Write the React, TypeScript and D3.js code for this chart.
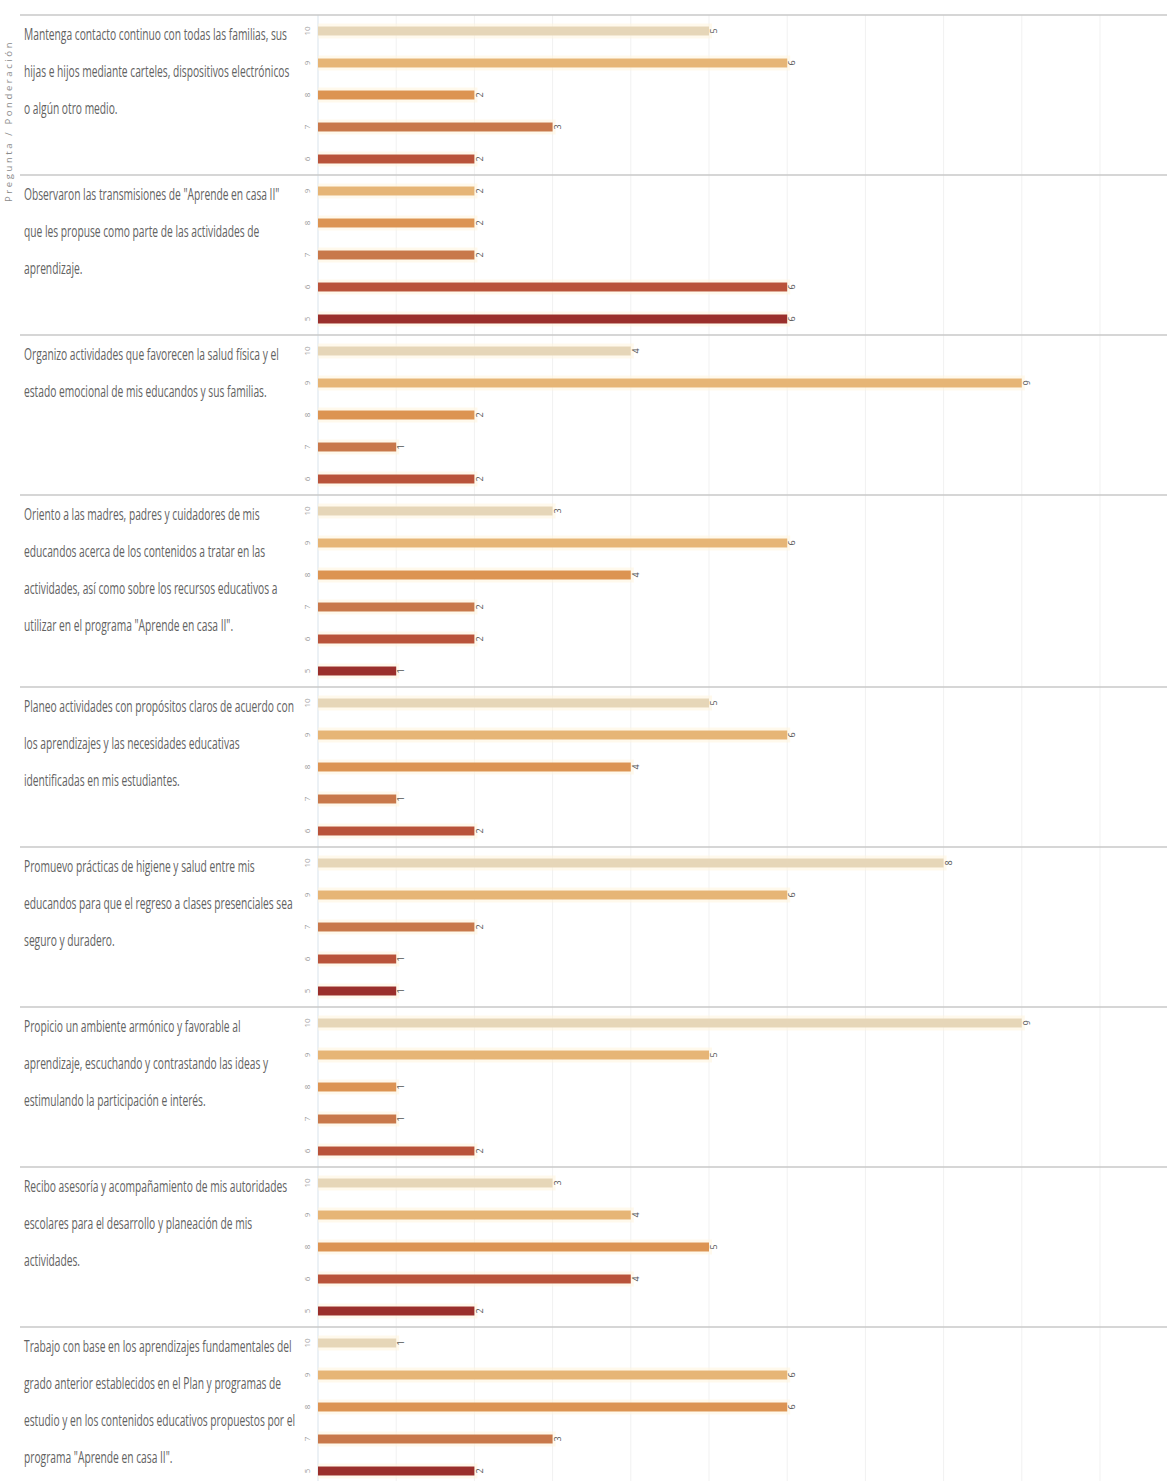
import React from 'react';
import * as d3 from 'd3';

// Question text, wrapped as in the source
const questionLines: string[][] = [
  ['Mantenga contacto continuo con todas las familias, sus', 'hijas e hijos mediante carteles, dispositivos electrónicos', 'o algún otro medio.'],
  ['Observaron las transmisiones de "Aprende en casa II"', 'que les propuse como parte de las actividades de', 'aprendizaje.'],
  ['Organizo actividades que favorecen la salud física y el', 'estado emocional de mis educandos y sus familias.'],
  ['Oriento a las madres, padres y cuidadores de mis', 'educandos acerca de los contenidos a tratar en las', 'actividades, así como sobre los recursos educativos a', 'utilizar en el programa "Aprende en casa II".'],
  ['Planeo actividades con propósitos claros de acuerdo con', 'los aprendizajes y las necesidades educativas', 'identificadas en mis estudiantes.'],
  ['Promuevo prácticas de higiene y salud entre mis', 'educandos para que el regreso a clases presenciales sea', 'seguro y duradero.'],
  ['Propicio un ambiente armónico y favorable al', 'aprendizaje, escuchando y contrastando las ideas y', 'estimulando la participación e interés.'],
  ['Recibo asesoría y acompañamiento de mis autoridades', 'escolares para el desarrollo y planeación de mis', 'actividades.'],
  ['Trabajo con base en los aprendizajes fundamentales del', 'grado anterior establecidos en el Plan y programas de', 'estudio y en los contenidos educativos propuestos por el', 'programa "Aprende en casa II".'],
];

// Ponderación shown in each group
const groupLevels: number[][] = [
  [10, 9, 8, 7, 6],
  [9, 8, 7, 6, 5],
  [10, 9, 8, 7, 6],
  [10, 9, 8, 7, 6, 5],
  [10, 9, 8, 7, 6],
  [10, 9, 7, 6, 5],
  [10, 9, 8, 7, 6],
  [10, 9, 8, 6, 5],
  [10, 9, 8, 7, 5],
];

// Count of answers per ponderación
const groupCounts: number[][] = [
  [5, 6, 2, 3, 2],
  [2, 2, 2, 6, 6],
  [4, 9, 2, 1, 2],
  [3, 6, 4, 2, 2, 1],
  [5, 6, 4, 1, 2],
  [8, 6, 2, 1, 1],
  [9, 5, 1, 1, 2],
  [3, 4, 5, 4, 2],
  [1, 6, 6, 3, 2],
];

const levels = [10, 9, 8, 7, 6, 5];
const levelColors = ['#e6d6b8', '#e6b576', '#dc9452', '#c8784a', '#b9533a', '#9a2f2b'];

const W = 1167;
const H = 1481;
const ROW_H = 32;
const TOP = 15;

const rows = groupLevels.flatMap((lv, g) =>
  lv.map((level, i) => ({ g, level, value: groupCounts[g][i], key: `${g}-${i}` }))
);

const App: React.FC = () => {
  const y = d3.scaleBand<string>()
    .domain(rows.map(r => r.key))
    .range([TOP, TOP + rows.length * ROW_H])
    .paddingInner(0.72)
    .paddingOuter(0.36);

  const x = d3.scaleLinear().domain([0, 10]).range([318, 1100]);
  const color = d3.scaleOrdinal<number, string>().domain(levels).range(levelColors);

  // start row of each group
  const groupStart: number[] = [];
  let acc = 0;
  groupLevels.forEach(lv => { groupStart.push(acc); acc += lv.length; });
  const groupTop = (g: number) => TOP + groupStart[g] * ROW_H;

  const ticks = d3.range(1, 11);

  return (
    <svg width={W} height={H} style={{ position: 'absolute', left: 0, top: 0, background: '#fff' }}
      fontFamily="'Open Sans', sans-serif">
      {/* grid */}
      {ticks.map(t => (
        <line key={t} x1={x(t)} x2={x(t)} y1={TOP} y2={H} stroke="#f1f1f1" strokeWidth={1} />
      ))}
      <line x1={x(0)} x2={x(0)} y1={TOP} y2={H} stroke="#dfe8ef" strokeWidth={1.2} />

      {/* group separators */}
      {groupLevels.map((_, g) => (
        <line key={g} x1={20} x2={W} y1={groupTop(g)} y2={groupTop(g)} stroke="#c9c9c9" strokeWidth={1.5} />
      ))}

      {/* column header */}
      <text transform="translate(12,202) rotate(-90)" fontSize={9.5} fill="#8a8a8a" letterSpacing={2.6}>
        Pregunta / Ponderación
      </text>

      {/* questions */}
      {questionLines.map((lines, g) => (
        <g key={g} transform={`translate(24,${groupTop(g) + 25}) scale(0.64,1)`}>
          {lines.map((l, i) => (
            <text key={i} x={0} y={i * 37} fontSize={16} fill="#626262">{l}</text>
          ))}
        </g>
      ))}

      {/* bars */}
      {rows.map(r => {
        const by = y(r.key)!;
        const bh = y.bandwidth();
        const cy = by + bh / 2;
        return (
          <g key={r.key}>
            <rect x={x(0)} y={by - 3} width={x(r.value) - x(0) + 3} height={bh + 6} fill="#fff4dc" opacity={0.55} />
            <rect x={x(0)} y={by} width={x(r.value) - x(0)} height={bh} fill={color(r.level)} />
            <text transform={`translate(${x(0) - 11},${cy}) rotate(-90)`} textAnchor="middle" dy="0.35em"
              fontSize={8} fill="#9a9a9a">{r.level}</text>
            <text transform={`translate(${x(r.value) + 5},${cy}) rotate(-90)`} textAnchor="middle" dy="0.35em"
              fontSize={9} fill="#555">{r.value}</text>
          </g>
        );
      })}
    </svg>
  );
};

export default App;
